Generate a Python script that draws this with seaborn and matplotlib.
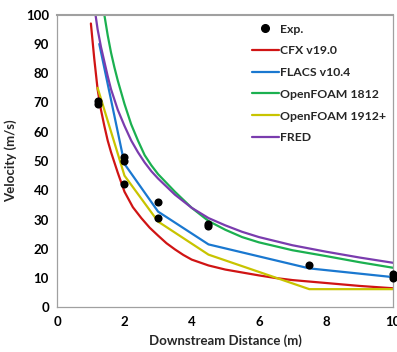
import matplotlib
matplotlib.use("Agg")
import matplotlib.pyplot as plt
import seaborn as sns
import pandas as pd
from matplotlib.lines import Line2D

# Experimental data
exp_x = [1.2, 1.2, 2.0, 2.0, 2.0, 3.0, 3.0, 4.5, 4.5, 7.5, 10.0, 10.0]
exp_y = [70.5, 69.6, 51.5, 50.1, 42.3, 35.9, 30.4, 28.4, 27.7, 14.6, 11.3, 9.9]

# CFX v19.0
cfx_x = [1.0, 1.1, 1.2, 1.3, 1.4, 1.5, 1.6, 1.8, 2.0, 2.25, 2.5, 2.75, 3.0, 3.25, 3.5, 3.75, 4.0,
         4.5, 5.0, 5.5, 6.0, 6.5, 7.0, 7.5, 8.0, 9.0, 10.0]
cfx_y = [97.0, 85.0, 74.5, 67.5, 62.0, 57.0, 53.0, 46.0, 39.5, 34.2, 30.5, 27.2, 24.5, 21.9, 19.8, 17.9, 16.3,
         14.3, 12.9, 11.9, 10.9, 10.0, 9.3, 8.8, 8.3, 7.3, 6.5]

# FLACS v10.4
flacs_x = [1.25, 2.0, 3.0, 4.5, 7.5, 10.0]
flacs_y = [90.0, 49.0, 32.7, 21.5, 13.3, 10.3]

# OpenFOAM 1812
of1812_x = [1.35, 1.4, 1.5, 1.6, 1.7, 1.8, 2.0, 2.2, 2.4, 2.6, 2.8, 3.0, 3.5, 4.0,
            4.5, 5.0, 5.5, 6.0, 7.0, 8.0, 9.0, 10.0]
of1812_y = [104.0, 100.0, 93.0, 87.0, 82.0, 77.5, 69.5, 62.5, 57.0, 52.0, 48.5, 45.5, 39.5, 34.0,
            29.5, 26.5, 24.0, 22.2, 19.5, 17.5, 15.4, 13.5]

# OpenFOAM 1912+
of1912_x = [1.2, 2.0, 3.0, 4.5, 7.5, 10.0]
of1912_y = [75.0, 45.0, 29.3, 18.0, 6.2, 6.2]

# FRED
fred_x = [1.1, 1.2, 1.3, 1.4, 1.5, 1.6, 1.8, 2.0, 2.2, 2.4, 2.6, 2.8, 3.0, 3.5, 4.0,
          4.5, 5.0, 5.5, 6.0, 7.0, 8.0, 9.0, 10.0]
fred_y = [103.0, 95.0, 89.0, 84.0, 79.0, 74.5, 67.5, 62.0, 57.0, 53.0, 49.5, 46.5, 44.0, 38.5, 34.0,
          30.5, 28.0, 25.8, 24.0, 21.2, 19.0, 17.0, 15.2]

series_names = ["CFX v19.0", "FLACS v10.4", "OpenFOAM 1812", "OpenFOAM 1912+", "FRED"]
series_x = [cfx_x, flacs_x, of1812_x, of1912_x, fred_x]
series_y = [cfx_y, flacs_y, of1812_y, of1912_y, fred_y]
colors = ["#d01414", "#1a78d0", "#1bb050", "#c8c400", "#7a3cae"]

x_ticks = [0, 2, 4, 6, 8, 10]
y_ticks = [0, 10, 20, 30, 40, 50, 60, 70, 80, 90, 100]

sns.set_style("white")
plt.rcParams["font.family"] = ["Lato", "DejaVu Sans"]
plt.rcParams["font.weight"] = "bold"

fig = plt.figure(figsize=(3.97, 3.52), dpi=100)
ax = fig.add_axes([0.1443, 0.127, 0.8464, 0.8312])

rows = []
for name, xs, ys in zip(series_names, series_x, series_y):
    for xv, yv in zip(xs, ys):
        rows.append({"x": xv, "y": yv, "series": name})
df = pd.DataFrame(rows)

sns.lineplot(data=df, x="x", y="y", hue="series", hue_order=series_names,
             palette=colors, sort=False, estimator=None, linewidth=1.6,
             ax=ax, legend=False)

exp_df = pd.DataFrame({"x": exp_x, "y": exp_y})
sns.scatterplot(data=exp_df, x="x", y="y", color="black", s=34, edgecolor="black",
                linewidth=0, ax=ax, zorder=5, clip_on=False, legend=False)

ax.set_xlim(0, 10)
ax.set_ylim(0, 100)
ax.set_xticks(x_ticks)
ax.set_yticks(y_ticks)
ax.set_xticklabels([str(t) for t in x_ticks], fontsize=9.5, fontweight="bold")
ax.set_yticklabels([str(t) for t in y_ticks], fontsize=9.5, fontweight="bold")
ax.tick_params(axis="both", direction="out", length=3, width=0.8, color="#a0a0a0",
               pad=3, labelcolor="black")
ax.set_xlabel("Downstream Distance (m)", fontsize=9.5, fontweight="bold", labelpad=5)
ax.set_ylabel("Velocity (m/s)", fontsize=9.5, fontweight="bold", labelpad=6)

for side in ["left", "right", "bottom"]:
    ax.spines[side].set_color("#a0a0a0")
    ax.spines[side].set_linewidth(0.9)
ax.spines["top"].set_color("#a0a0a0")
ax.spines["top"].set_linewidth(1.5)
ax.grid(False)

handles = [Line2D([], [], marker="o", color="black", linestyle="None", markersize=5.5)]
for name, c in zip(series_names, colors):
    handles.append(Line2D([], [], color=c, linewidth=1.6))
labels = ["Exp."] + series_names
leg = ax.legend(handles, labels, loc="upper right", bbox_to_anchor=(1.0, 0.995),
                frameon=False, fontsize=8.8, handlelength=2.2, handletextpad=0.1,
                labelspacing=0.88, borderaxespad=0.2)
for t in leg.get_texts():
    t.set_fontweight("bold")

fig.savefig("out.png", dpi=100)
